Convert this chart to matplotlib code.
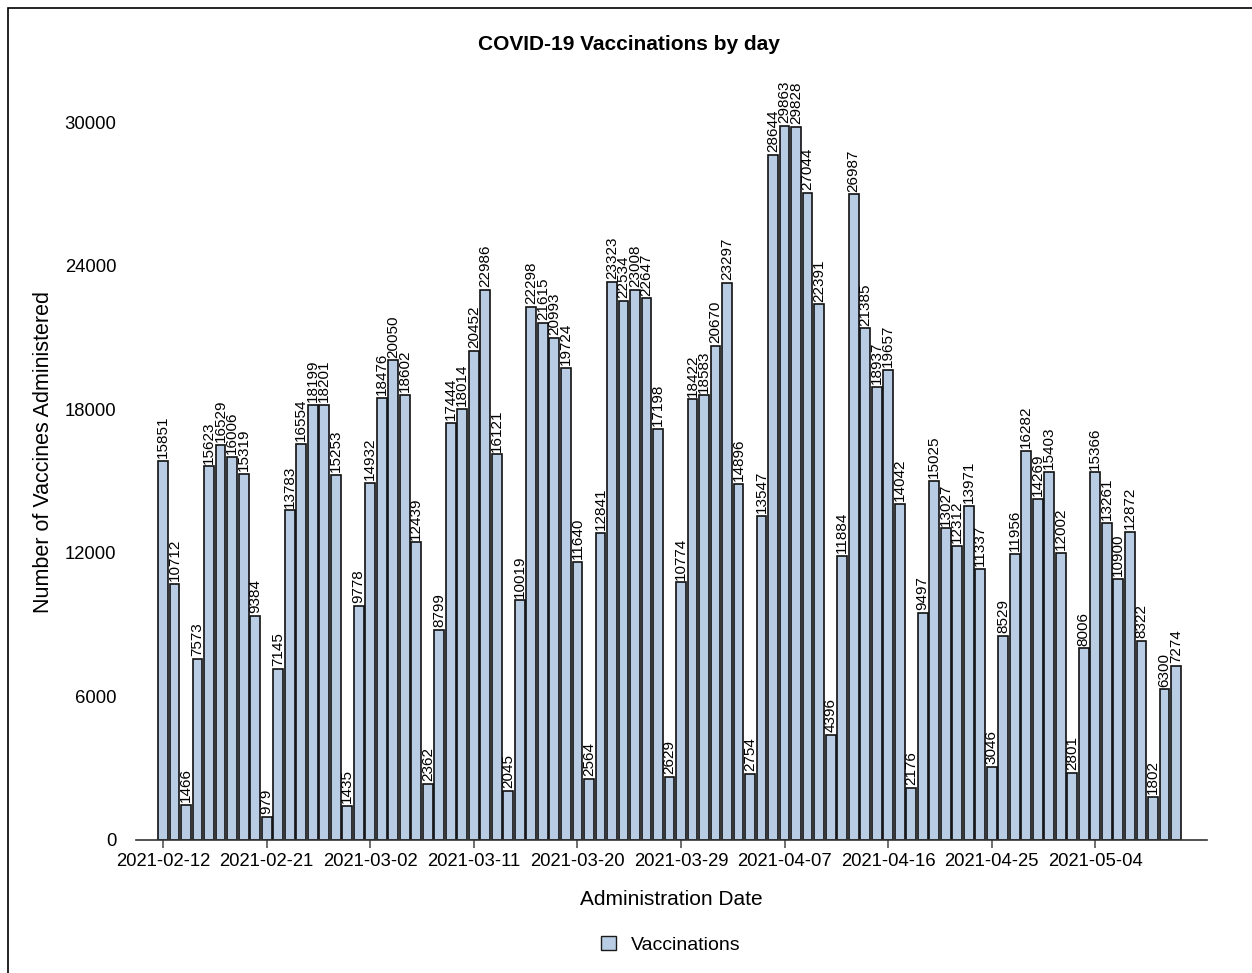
import matplotlib
matplotlib.use("Agg")
import matplotlib.pyplot as plt
import pandas as pd
from matplotlib.patches import Rectangle, Patch

plt.rcParams['font.family'] = ['Liberation Sans', 'DejaVu Sans']

start_date = "2021-02-12"
vaccinations = [
    15851, 10712, 1466, 7573, 15623, 16529, 16006, 15319, 9384, 979,
    7145, 13783, 16554, 18199, 18201, 15253, 1435, 9778, 14932, 18476,
    20050, 18602, 12439, 2362, 8799, 17444, 18014, 20452, 22986, 16121,
    2045, 10019, 22298, 21615, 20993, 19724, 11640, 2564, 12841, 23323,
    22534, 23008, 22647, 17198, 2629, 10774, 18422, 18583, 20670, 23297,
    14896, 2754, 13547, 28644, 29863, 29828, 27044, 22391, 4396, 11884,
    26987, 21385, 18937, 19657, 14042, 2176, 9497, 15025, 13027, 12312,
    13971, 11337, 3046, 8529, 11956, 16282, 14269, 15403, 12002, 2801,
    8006, 15366, 13261, 10900, 12872, 8322, 1802, 6300, 7274,
]
dates = [d.strftime("%Y-%m-%d") for d in pd.date_range(start_date, periods=len(vaccinations))]
y_ticks = [0, 6000, 12000, 18000, 24000, 30000]
title = "COVID-19 Vaccinations by day"
xlabel = "Administration Date"
ylabel = "Number of Vaccines Administered"
series_name = "Vaccinations"

W, H = 1252, 973
fig = plt.figure(figsize=(W / 100, H / 100), dpi=100)
ax = fig.add_axes([136 / W, 1 - 840 / H, (1207 - 136) / W, (840 - 65) / H])

x = list(range(len(vaccinations)))
bar_color = "#b8cce4"
bars = ax.bar(x, vaccinations, width=0.85, color=bar_color, edgecolor="#111111", linewidth=1.2)

for xi, v in zip(x, vaccinations):
    ax.annotate(str(v), (xi, v), xytext=(0, 2), textcoords="offset points",
                rotation=90, ha="center", va="bottom", fontsize=11, color="#000000")

ax.set_xlim(-2.35, len(vaccinations) - 1 + 2.7)
ax.set_ylim(0, 32400)
tick_idx = x[::9]
ax.set_xticks(tick_idx)
ax.set_xticklabels([dates[i] for i in tick_idx], fontsize=13.3)
ax.set_yticks(y_ticks)
ax.set_yticklabels([str(t) for t in y_ticks], fontsize=13.3)
ax.tick_params(axis="y", length=0, pad=14)
ax.tick_params(axis="x", length=6, width=1.2, color="#555555", pad=3)

for s in ["top", "right", "left"]:
    ax.spines[s].set_visible(False)
ax.spines["bottom"].set_color("#333333")
ax.spines["bottom"].set_linewidth(1.2)

ax.set_xlabel(xlabel, fontsize=15, labelpad=15)
ax.set_ylabel(ylabel, fontsize=15.5, labelpad=8)
fig.text((480 + 778) / 2 / W, 1 - 44 / H, title, ha="center", va="center",
         fontsize=15, fontweight="bold")

handle = Patch(facecolor=bar_color, edgecolor="#1a1a1a", linewidth=1.0)
fig.legend([handle], [series_name], loc="center", bbox_to_anchor=(0.536, 1 - 945 / H),
           frameon=False, fontsize=14, handlelength=0.75, handleheight=0.75,
           handletextpad=0.8)

border = Rectangle((8 / W, -0.1), 1.2, 1.1 - 8 / H, transform=fig.transFigure,
                   fill=False, edgecolor="black", linewidth=1.2, clip_on=False)
fig.patches.append(border)

fig.savefig("out.png", dpi=100)
